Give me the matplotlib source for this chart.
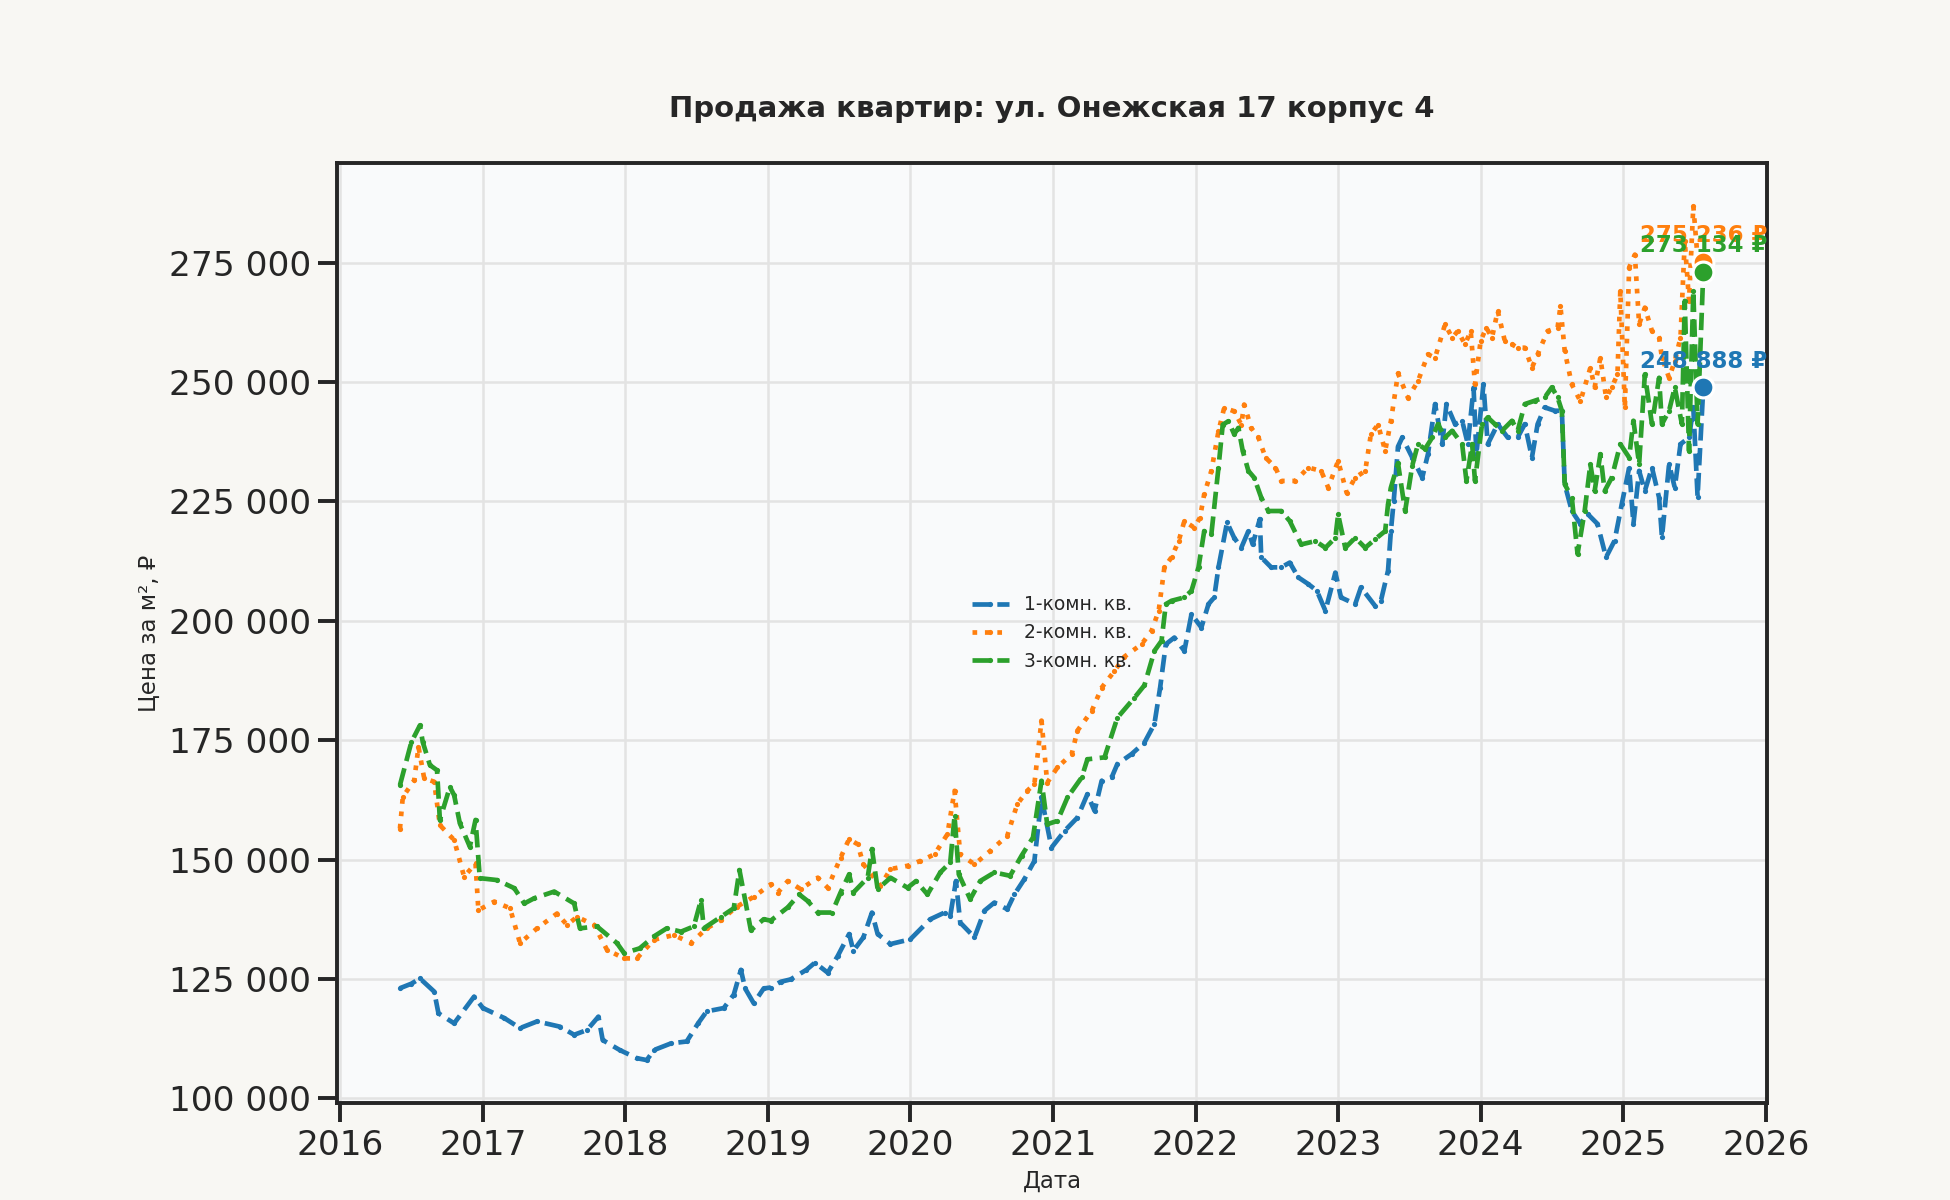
import numpy as np
import pandas as pd
import matplotlib
matplotlib.use("Agg")
import matplotlib.pyplot as plt
import matplotlib.dates as mdates
from matplotlib.ticker import FuncFormatter
import seaborn as sns

# decimal years / price per m2
years_1 = [2016.42, 2016.50, 2016.56, 2016.66, 2016.69, 2016.80, 2016.94, 2017.00, 2017.15, 2017.26,
           2017.38, 2017.54, 2017.64, 2017.73, 2017.81, 2017.84, 2017.96, 2018.08, 2018.15, 2018.20,
           2018.32, 2018.43, 2018.51, 2018.57, 2018.69, 2018.76, 2018.81, 2018.84, 2018.90, 2018.97,
           2019.02, 2019.09, 2019.16, 2019.27, 2019.33, 2019.42, 2019.49, 2019.57, 2019.60, 2019.67,
           2019.73, 2019.77, 2019.86, 2020.00, 2020.14, 2020.24, 2020.28, 2020.32, 2020.35, 2020.45,
           2020.52, 2020.59, 2020.68, 2020.73, 2020.80, 2020.87, 2020.92, 2020.99, 2021.08, 2021.17,
           2021.24, 2021.29, 2021.34, 2021.41, 2021.45, 2021.55, 2021.64, 2021.71, 2021.75, 2021.79,
           2021.85, 2021.92, 2021.97, 2022.04, 2022.09, 2022.13, 2022.16, 2022.22, 2022.27, 2022.32,
           2022.37, 2022.40, 2022.45, 2022.46, 2022.53, 2022.60, 2022.66, 2022.72, 2022.79, 2022.85,
           2022.91, 2022.98, 2023.02, 2023.12, 2023.16, 2023.26, 2023.30, 2023.35, 2023.37, 2023.39,
           2023.42, 2023.45, 2023.52, 2023.59, 2023.63, 2023.68, 2023.73, 2023.76, 2023.82, 2023.87,
           2023.91, 2023.95, 2023.97, 2024.02, 2024.05, 2024.12, 2024.19, 2024.26, 2024.31, 2024.36,
           2024.40, 2024.45, 2024.52, 2024.57, 2024.59, 2024.64, 2024.70, 2024.75, 2024.82, 2024.88,
           2024.94, 2024.99, 2025.04, 2025.07, 2025.11, 2025.15, 2025.20, 2025.25, 2025.27, 2025.32,
           2025.36, 2025.40, 2025.46, 2025.49, 2025.52, 2025.56]
price_1 = [123050, 124000, 125100, 122350, 117800, 115700, 121300, 118900, 116800, 114700,
           116100, 115000, 113300, 114300, 117100, 112200, 110100, 108400, 108000, 110100,
           111500, 111900, 115700, 118200, 118900, 121700, 126900, 123000, 119900, 123000,
           123200, 124400, 124900, 126900, 128400, 126300, 129800, 134400, 130900, 133700,
           138900, 134400, 132300, 133300, 137500, 138900, 138200, 145500, 136800, 133700,
           139300, 141000, 139600, 142700, 145900, 149700, 163000, 152500, 156000, 158800,
           163700, 160200, 166500, 167200, 170000, 172100, 174500, 178400, 186000, 195100,
           196500, 193700, 201400, 198600, 203500, 204900, 211200, 220600, 217400, 215300,
           218800, 216000, 221300, 213300, 211200, 211200, 212200, 209100, 207700, 206300,
           202100, 210100, 204900, 203500, 207000, 203100, 204200, 210500, 218800, 225100,
           236500, 238400, 234200, 230000, 234900, 245400, 237000, 245400, 241200, 241900,
           237000, 248800, 234900, 249500, 237000, 241200, 238400, 238400, 241200, 234200,
           241200, 244700, 244000, 244000, 228600, 223000, 220300, 222400, 220300, 213300,
           216800, 224400, 232100, 220300, 231400, 227200, 232100, 225800, 217500, 232800,
           227900, 237000, 238400, 244700, 226000, 248888]

years_2 = [2016.42, 2016.44, 2016.52, 2016.55, 2016.59, 2016.66, 2016.70, 2016.80, 2016.87, 2016.95,
           2016.97, 2017.08, 2017.19, 2017.26, 2017.38, 2017.52, 2017.59, 2017.66, 2017.78, 2017.87,
           2017.99, 2018.08, 2018.20, 2018.34, 2018.46, 2018.57, 2018.67, 2018.78, 2018.90, 2019.02,
           2019.07, 2019.14, 2019.23, 2019.35, 2019.42, 2019.51, 2019.57, 2019.63, 2019.67, 2019.79,
           2019.86, 2019.98, 2020.07, 2020.17, 2020.26, 2020.31, 2020.35, 2020.45, 2020.56, 2020.68,
           2020.75, 2020.82, 2020.87, 2020.92, 2020.96, 2021.03, 2021.13, 2021.17, 2021.27, 2021.34,
           2021.43, 2021.50, 2021.62, 2021.69, 2021.74, 2021.78, 2021.83, 2021.88, 2021.92, 2021.99,
           2022.03, 2022.06, 2022.11, 2022.16, 2022.20, 2022.27, 2022.32, 2022.34, 2022.39, 2022.44,
           2022.49, 2022.56, 2022.60, 2022.70, 2022.79, 2022.88, 2022.93, 2023.00, 2023.06, 2023.12,
           2023.19, 2023.23, 2023.28, 2023.33, 2023.37, 2023.42, 2023.49, 2023.56, 2023.63, 2023.68,
           2023.75, 2023.80, 2023.84, 2023.89, 2023.93, 2023.96, 2024.00, 2024.04, 2024.08, 2024.12,
           2024.17, 2024.22, 2024.26, 2024.31, 2024.36, 2024.40, 2024.47, 2024.54, 2024.56, 2024.59,
           2024.64, 2024.70, 2024.77, 2024.80, 2024.84, 2024.88, 2024.92, 2024.96, 2024.98, 2025.01,
           2025.04, 2025.08, 2025.11, 2025.15, 2025.20, 2025.25, 2025.27, 2025.32, 2025.36, 2025.40,
           2025.43, 2025.46, 2025.49, 2025.52, 2025.56]
price_2 = [156500, 163100, 166600, 173600, 167000, 166300, 157200, 154100, 146400, 149200,
           139400, 141200, 139800, 132500, 135600, 138700, 136300, 138000, 136300, 131100,
           129300, 129300, 133200, 134200, 132500, 135600, 137300, 140100, 142200, 144800,
           143100, 145500, 143800, 146200, 144100, 150400, 154300, 153200, 149000, 144500,
           148000, 148700, 149700, 151100, 155300, 164400, 151100, 149000, 151800, 155000,
           161600, 164400, 165800, 179100, 166100, 169300, 172100, 177000, 181100, 186000,
           189500, 192500, 195100, 197900, 202100, 211200, 213300, 216700, 220900, 219500,
           221600, 226500, 231400, 239700, 244600, 243900, 241100, 245300, 240400, 238400,
           234200, 232100, 229300, 229300, 232100, 231400, 227900, 233500, 226800, 230000,
           231400, 239100, 241100, 235600, 241800, 251800, 246700, 250200, 255800, 255100,
           262100, 259300, 260700, 257900, 260700, 249500, 258600, 261400, 259300, 264900,
           258600, 257900, 257200, 257200, 253000, 255800, 260700, 261400, 265900, 256500,
           249500, 246000, 253000, 248900, 255100, 246800, 248900, 251600, 269100, 244700,
           274000, 276700, 262100, 265600, 260700, 259300, 255100, 250900, 254400, 259300,
           279500, 267000, 286900, 276000, 275236]

years_3 = [2016.42, 2016.50, 2016.56, 2016.58, 2016.63, 2016.68, 2016.70, 2016.77, 2016.80, 2016.84,
           2016.91, 2016.95, 2016.98, 2017.10, 2017.22, 2017.29, 2017.36, 2017.50, 2017.64, 2017.68,
           2017.80, 2017.94, 2017.99, 2018.10, 2018.20, 2018.29, 2018.39, 2018.48, 2018.53, 2018.55,
           2018.67, 2018.76, 2018.80, 2018.88, 2018.97, 2019.02, 2019.14, 2019.22, 2019.28, 2019.35,
           2019.45, 2019.51, 2019.57, 2019.60, 2019.70, 2019.73, 2019.77, 2019.86, 2019.98, 2020.04,
           2020.12, 2020.21, 2020.28, 2020.31, 2020.34, 2020.42, 2020.49, 2020.59, 2020.70, 2020.78,
           2020.86, 2020.92, 2020.96, 2021.03, 2021.10, 2021.20, 2021.24, 2021.36, 2021.45, 2021.57,
           2021.64, 2021.71, 2021.76, 2021.79, 2021.83, 2021.92, 2021.97, 2022.02, 2022.06, 2022.11,
           2022.16, 2022.19, 2022.23, 2022.27, 2022.30, 2022.33, 2022.37, 2022.41, 2022.46, 2022.51,
           2022.60, 2022.66, 2022.74, 2022.84, 2022.91, 2022.98, 2023.00, 2023.05, 2023.12, 2023.19,
           2023.26, 2023.33, 2023.35, 2023.37, 2023.42, 2023.47, 2023.52, 2023.56, 2023.61, 2023.66,
           2023.70, 2023.75, 2023.80, 2023.87, 2023.90, 2023.94, 2023.96, 2024.01, 2024.05, 2024.10,
           2024.15, 2024.22, 2024.26, 2024.31, 2024.38, 2024.45, 2024.50, 2024.54, 2024.57, 2024.59,
           2024.64, 2024.68, 2024.73, 2024.77, 2024.80, 2024.84, 2024.87, 2024.92, 2024.98, 2025.04,
           2025.07, 2025.11, 2025.15, 2025.20, 2025.25, 2025.27, 2025.32, 2025.36, 2025.41, 2025.43,
           2025.46, 2025.49, 2025.52, 2025.56]
price_3 = [165600, 174600, 178100, 174600, 169800, 168700, 158300, 165200, 163500, 157600,
           152700, 158300, 146100, 145700, 144000, 140800, 141900, 143300, 140800, 135600,
           136000, 132500, 130400, 131400, 133900, 135600, 134900, 136000, 141500, 135600,
           138000, 139800, 147800, 135200, 137500, 137200, 140000, 142700, 141300, 138900,
           138900, 143100, 146900, 143100, 146200, 152200, 143800, 146200, 144100, 145500,
           142700, 147300, 149400, 159100, 146900, 141700, 145500, 147300, 146600, 150800,
           154600, 166500, 157400, 158100, 163000, 167200, 171000, 171400, 179700, 183900,
           186500, 193700, 195800, 203500, 204200, 204900, 206300, 211200, 218800, 218100,
           232100, 241100, 241800, 239100, 240400, 235600, 231400, 230000, 225800, 223000,
           223000, 220900, 216000, 216700, 215300, 217400, 222300, 215300, 217400, 215300,
           217100, 218800, 224400, 227900, 233000, 223000, 232500, 237000, 236000, 238400,
           241200, 238400, 239800, 237000, 229300, 237000, 229300, 241200, 242600, 241200,
           239800, 241900, 239800, 245400, 246100, 246800, 248900, 246800, 244000, 228600,
           225800, 214000, 223000, 232800, 227200, 234900, 227200, 230000, 237000, 234200,
           241900, 232800, 251600, 241200, 250900, 241200, 244000, 248900, 241200, 267000,
           235600, 269100, 241200, 273134]

labels = ["1-комн. кв.", "2-комн. кв.", "3-комн. кв."]
colors = ["#1f77b4", "#ff7f0e", "#2ca02c"]
styles = ["--", ":", "--"]


def to_dates(years):
    years = np.asarray(years)
    base = pd.to_datetime(np.floor(years).astype(int).astype(str), format="%Y")
    return base + pd.to_timedelta((years - np.floor(years)) * 365.25, unit="D")


sns.set_theme(context="talk", style="ticks")
plt.rcParams["font.family"] = "DejaVu Sans"

fig, ax = plt.subplots(figsize=(13, 8), dpi=150)
fig.patch.set_facecolor("#f8f7f3")
ax.set_facecolor("#f9fafb")
fig.subplots_adjust(left=0.173, right=0.906, top=0.864, bottom=0.081)

data = [(years_1, price_1), (years_2, price_2), (years_3, price_3)]
for (yrs, vals), lab, col, ls in zip(data, labels, colors, styles):
    d = to_dates(yrs)
    ax.plot(d, vals, linestyle=ls, color=col, linewidth=2.25,
            marker=".", markersize=3, label=lab)
    ax.plot(d[-1], vals[-1], "o", color=col, markersize=10,
            markeredgecolor="white", markeredgewidth=1.5, zorder=5)
    ax.annotate(f"{vals[-1]:,.0f} ₽".replace(",", " "), (d[-1], vals[-1]),
                xytext=(0, 7), textcoords="offset points", ha="center", va="bottom",
                fontsize=11, fontweight="bold", color=col, zorder=6)

ax.grid(True, color="#e3e3e3", linewidth=1.2)
ax.set_axisbelow(True)
ax.set_xlim(pd.Timestamp("2015-12-25"), pd.Timestamp("2026-01-03"))
ax.xaxis.set_major_locator(mdates.YearLocator())
ax.xaxis.set_major_formatter(mdates.DateFormatter("%Y"))
ax.yaxis.set_major_formatter(FuncFormatter(lambda v, p: f"{v:,.0f}".replace(",", " ")))

ax.set_title("Продажа квартир: ул. Онежская 17 корпус 4", fontsize=14,
             fontweight="bold", pad=22)
ax.set_xlabel("Дата", fontsize=11)
ax.set_ylabel("Цена за м², ₽", fontsize=11)
ax.legend(loc="center", fontsize=9, frameon=False)

fig.savefig("out.png", dpi=150, facecolor=fig.get_facecolor())
